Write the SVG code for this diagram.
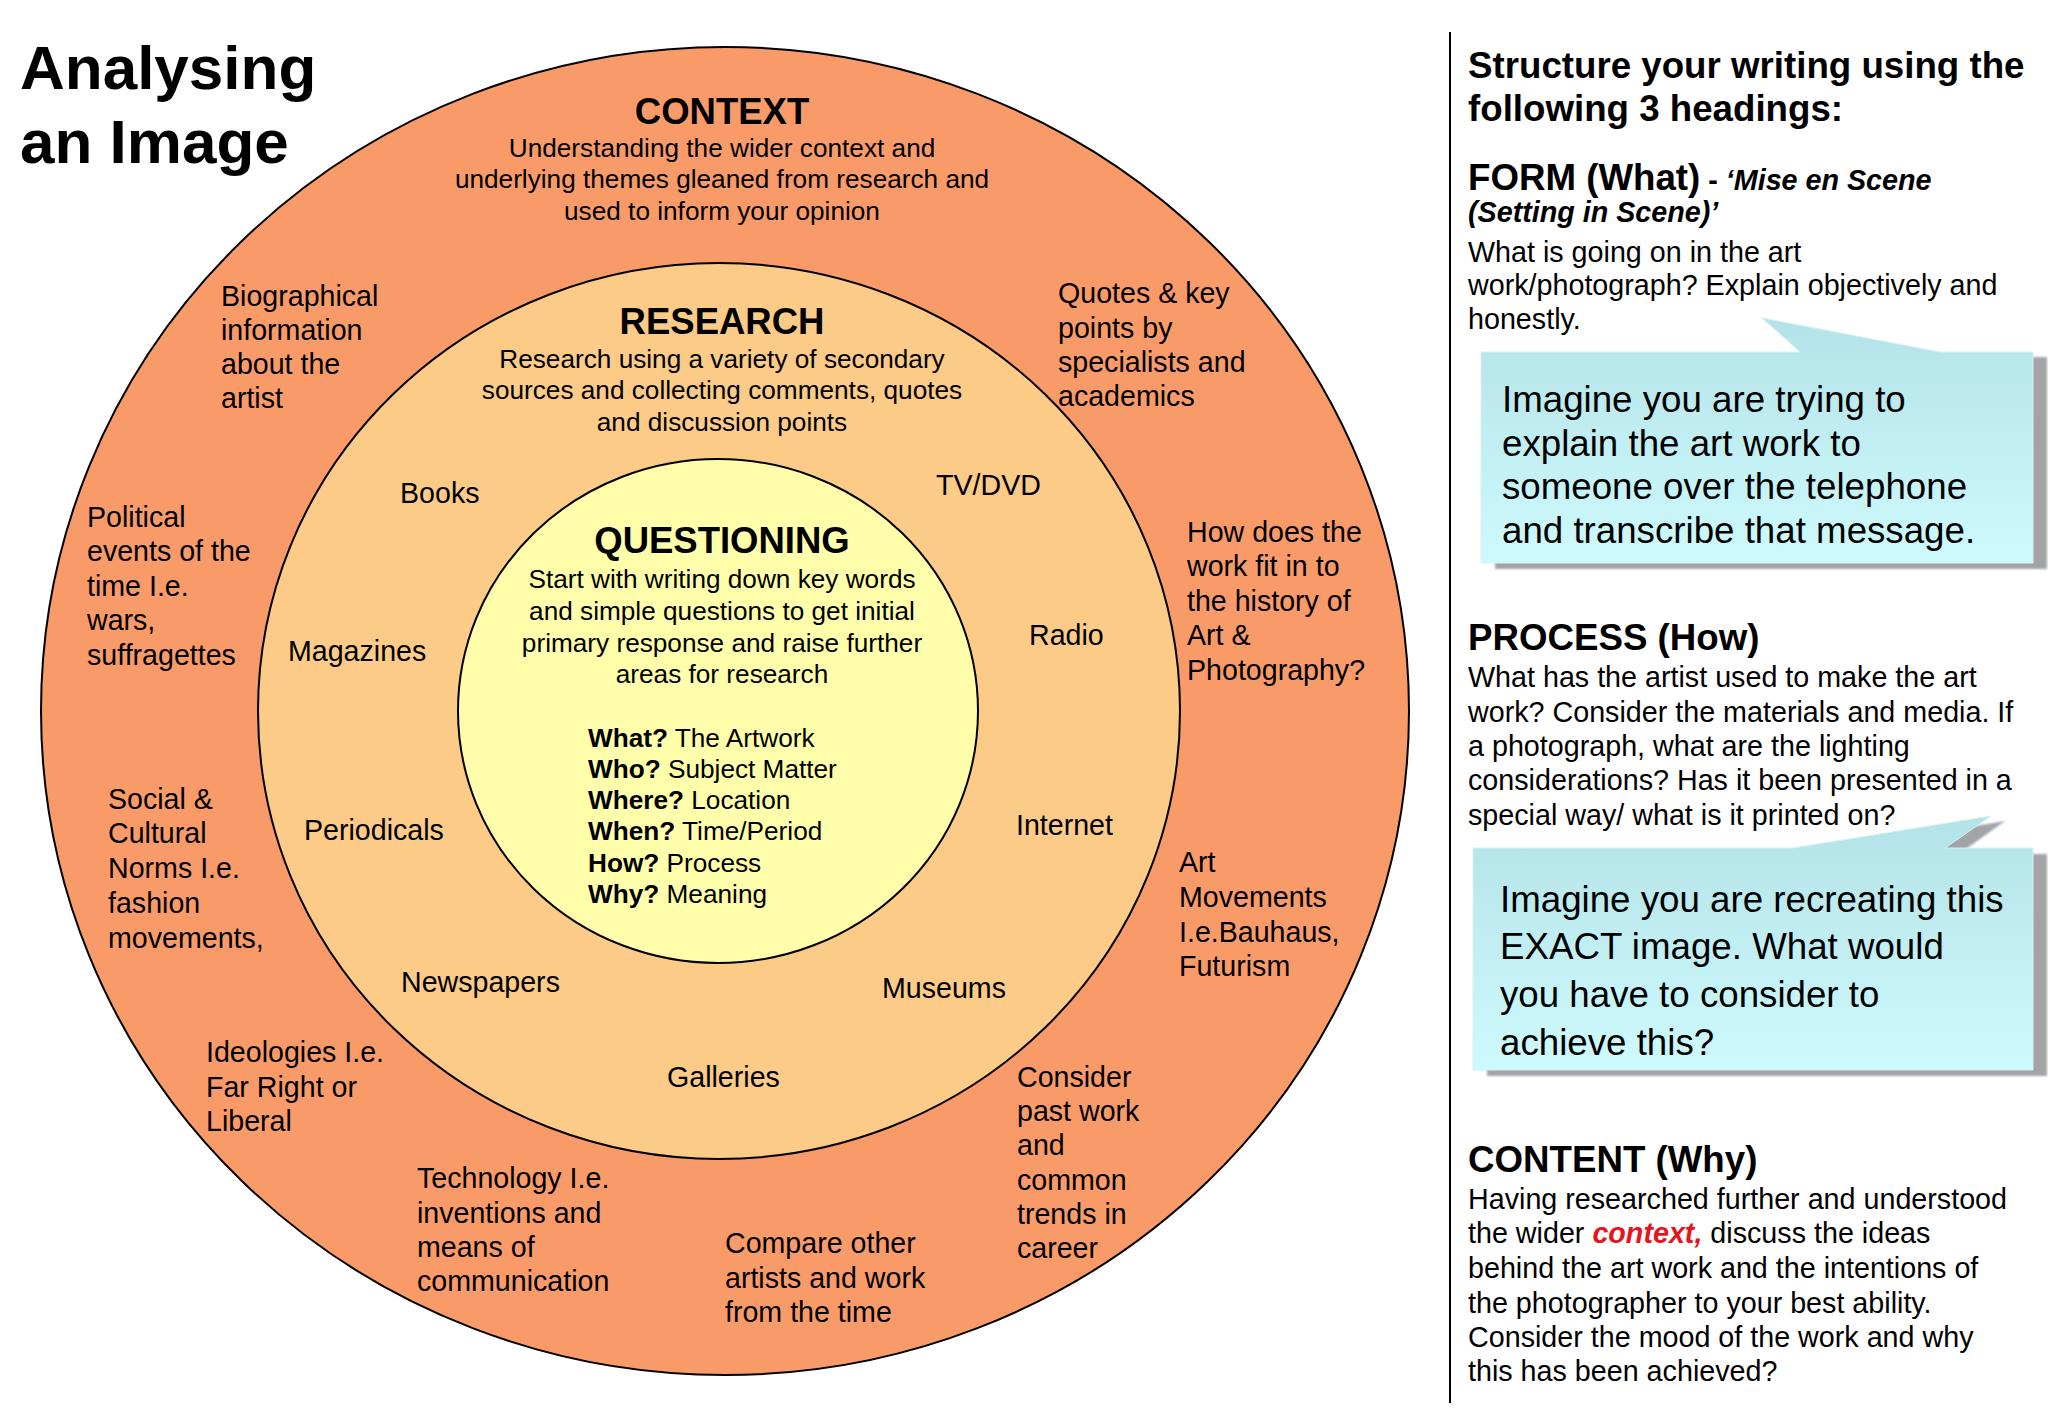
<svg xmlns="http://www.w3.org/2000/svg" width="2048" height="1418" viewBox="0 0 2048 1418">
<defs>
<linearGradient id="callFill" x1="0" y1="0" x2="0" y2="1">
<stop offset="0" stop-color="#B3E2E8"/>
<stop offset="1" stop-color="#CEFAFD"/>
</linearGradient>
<filter id="soft" x="-5%" y="-5%" width="110%" height="110%">
<feGaussianBlur stdDeviation="1.2"/>
</filter>
<style>
text{font-family:"Liberation Sans",Arial,sans-serif;fill:#000;}
.title{font-size:62px;font-weight:bold;}
.head{font-size:36.5px;font-weight:bold;text-anchor:middle;}
.body{font-size:26.2px;text-anchor:middle;}
.lbl{font-size:28.6px;}
.rh{font-size:36.7px;font-weight:bold;}
.rb{font-size:28.7px;}
.co{font-size:36.7px;}
.b{font-weight:bold;}
.bi{font-weight:bold;font-style:italic;}
.ring{stroke:#000;stroke-width:2;}
.shadow{fill:#A3A4A8;filter:url(#soft);}
.call{fill:url(#callFill);stroke:#D2F2F4;stroke-width:1;}
</style>
</defs>
<rect width="2048" height="1418" fill="#FFFFFF"/>

<g id="title">
<text class="title" x="20" y="89">Analysing</text>
<text class="title" x="20" y="163">an Image</text>
</g>

<g id="context-ring">
<ellipse class="ring" cx="725" cy="711" rx="684" ry="664" fill="#F99B68"/>
<text class="head" x="722" y="124">CONTEXT</text>
<text class="body" x="722" y="157">Understanding the wider context and</text>
<text class="body" x="722" y="188">underlying themes gleaned from research and</text>
<text class="body" x="722" y="220">used to inform your opinion</text>
</g>

<g id="research-ring">
<ellipse class="ring" cx="719" cy="711" rx="461" ry="448" fill="#FCCB87"/>
<text class="head" x="722" y="334">RESEARCH</text>
<text class="body" x="722" y="368">Research using a variety of secondary</text>
<text class="body" x="722" y="399">sources and collecting comments, quotes</text>
<text class="body" x="722" y="431">and discussion points</text>
</g>

<g id="questioning-ring">
<ellipse class="ring" cx="718" cy="711" rx="260" ry="252" fill="#FFFEAA"/>
<text class="head" x="722" y="553">QUESTIONING</text>
<text class="body" x="722" y="588">Start with writing down key words</text>
<text class="body" x="722" y="620">and simple questions to get initial</text>
<text class="body" x="722" y="652">primary response and raise further</text>
<text class="body" x="722" y="683">areas for research</text>
<text class="body" x="588" y="747" text-anchor="start" style="text-anchor:start"><tspan class="b">What?</tspan> The Artwork</text>
<text class="body" x="588" y="778" style="text-anchor:start"><tspan class="b">Who?</tspan> Subject Matter</text>
<text class="body" x="588" y="809" style="text-anchor:start"><tspan class="b">Where?</tspan> Location</text>
<text class="body" x="588" y="840" style="text-anchor:start"><tspan class="b">When?</tspan> Time/Period</text>
<text class="body" x="588" y="872" style="text-anchor:start"><tspan class="b">How?</tspan> Process</text>
<text class="body" x="588" y="903" style="text-anchor:start"><tspan class="b">Why?</tspan> Meaning</text>
</g>

<g id="context-labels">
<g id="biographical">
<text class="lbl" x="221" y="306">Biographical</text>
<text class="lbl" x="221" y="340">information</text>
<text class="lbl" x="221" y="374">about the</text>
<text class="lbl" x="221" y="408">artist</text>
</g>
<g id="political">
<text class="lbl" x="87" y="527">Political</text>
<text class="lbl" x="87" y="561">events of the</text>
<text class="lbl" x="87" y="596">time I.e.</text>
<text class="lbl" x="87" y="630">wars,</text>
<text class="lbl" x="87" y="665">suffragettes</text>
</g>
<g id="social">
<text class="lbl" x="108" y="809">Social &amp;</text>
<text class="lbl" x="108" y="843">Cultural</text>
<text class="lbl" x="108" y="878">Norms I.e.</text>
<text class="lbl" x="108" y="913">fashion</text>
<text class="lbl" x="108" y="948">movements,</text>
</g>
<g id="ideologies">
<text class="lbl" x="206" y="1062">Ideologies I.e.</text>
<text class="lbl" x="206" y="1097">Far Right or</text>
<text class="lbl" x="206" y="1131">Liberal</text>
</g>
<g id="technology">
<text class="lbl" x="417" y="1188">Technology I.e.</text>
<text class="lbl" x="417" y="1223">inventions and</text>
<text class="lbl" x="417" y="1257">means of</text>
<text class="lbl" x="417" y="1291">communication</text>
</g>
<g id="compare">
<text class="lbl" x="725" y="1253">Compare other</text>
<text class="lbl" x="725" y="1288">artists and work</text>
<text class="lbl" x="725" y="1322">from the time</text>
</g>
<g id="consider">
<text class="lbl" x="1017" y="1087">Consider</text>
<text class="lbl" x="1017" y="1121">past work</text>
<text class="lbl" x="1017" y="1155">and</text>
<text class="lbl" x="1017" y="1190">common</text>
<text class="lbl" x="1017" y="1224">trends in</text>
<text class="lbl" x="1017" y="1258">career</text>
</g>
<g id="art-movements">
<text class="lbl" x="1179" y="872">Art</text>
<text class="lbl" x="1179" y="907">Movements</text>
<text class="lbl" x="1179" y="942">I.e.Bauhaus,</text>
<text class="lbl" x="1179" y="976">Futurism</text>
</g>
<g id="history">
<text class="lbl" x="1187" y="542">How does the</text>
<text class="lbl" x="1187" y="576">work fit in to</text>
<text class="lbl" x="1187" y="611">the history of</text>
<text class="lbl" x="1187" y="645">Art &amp;</text>
<text class="lbl" x="1187" y="680">Photography?</text>
</g>
<g id="quotes">
<text class="lbl" x="1058" y="303">Quotes &amp; key</text>
<text class="lbl" x="1058" y="338">points by</text>
<text class="lbl" x="1058" y="372">specialists and</text>
<text class="lbl" x="1058" y="406">academics</text>
</g>
</g>

<g id="research-labels">
<text id="books" class="lbl" x="400" y="503">Books</text>
<text id="tvdvd" class="lbl" x="936" y="495">TV/DVD</text>
<text id="magazines" class="lbl" x="288" y="661">Magazines</text>
<text id="radio" class="lbl" x="1029" y="645">Radio</text>
<text id="periodicals" class="lbl" x="304" y="840">Periodicals</text>
<text id="internet" class="lbl" x="1016" y="835">Internet</text>
<text id="newspapers" class="lbl" x="401" y="992">Newspapers</text>
<text id="museums" class="lbl" x="882" y="998">Museums</text>
<text id="galleries" class="lbl" x="667" y="1087">Galleries</text>
</g>

<line id="divider" x1="1450" y1="32" x2="1450" y2="1403" stroke="#000" stroke-width="2"/>

<g id="structure-heading">
<text class="rh" x="1468" y="78">Structure your writing using the</text>
<text class="rh" x="1468" y="121">following 3 headings:</text>
</g>

<g id="form">
<text class="rh" x="1468" y="190">FORM (What)<tspan class="b" style="font-size:28.7px"> - </tspan><tspan class="bi" style="font-size:28.7px">‘Mise en Scene</tspan></text>
<text class="rb bi" x="1468" y="222">(Setting in Scene)’</text>
<text class="rb" x="1468" y="262">What is going on in the art</text>
<text class="rb" x="1468" y="295">work/photograph? Explain objectively and</text>
<text class="rb" x="1468" y="329">honestly.</text>
</g>

<g id="callout-form">
<path class="shadow" d="M1495,357 L1814,357 L1776,323 L1954,357 L2047,357 L2047,569 L1495,569 Z"/>
<path class="call" d="M1481,352 L1800,352 L1762,318 L1940,352 L2033,352 L2033,563 L1481,563 Z"/>
<text class="co" x="1502" y="412">Imagine you are trying to</text>
<text class="co" x="1502" y="456">explain the art work to</text>
<text class="co" x="1502" y="499">someone over the telephone</text>
<text class="co" x="1502" y="543">and transcribe that message.</text>
</g>

<g id="process">
<text class="rh" x="1468" y="650">PROCESS (How)</text>
<text class="rb" x="1468" y="687">What has the artist used to make the art</text>
<text class="rb" x="1468" y="722">work? Consider the materials and media. If</text>
<text class="rb" x="1468" y="756">a photograph, what are the lighting</text>
<text class="rb" x="1468" y="790">considerations? Has it been presented in a</text>
<text class="rb" x="1468" y="825">special way/ what is it printed on?</text>
</g>

<g id="callout-process">
<path class="shadow" d="M1487,854 L1807,854 L2005,821 L1959,854 L2047,854 L2047,1076 L1487,1076 Z"/>
<path class="call" d="M1473,848 L1793,848 L1991,816 L1945,848 L2033,848 L2033,1070 L1473,1070 Z"/>
<text class="co" x="1500" y="912">Imagine you are recreating this</text>
<text class="co" x="1500" y="959">EXACT image. What would</text>
<text class="co" x="1500" y="1007">you have to consider to</text>
<text class="co" x="1500" y="1055">achieve this?</text>
</g>

<g id="content">
<text class="rh" x="1468" y="1172">CONTENT (Why)</text>
<text class="rb" x="1468" y="1209">Having researched further and understood</text>
<text class="rb" x="1468" y="1243">the wider <tspan class="bi" fill="#E8141C" style="fill:#E8141C">context,</tspan> discuss the ideas</text>
<text class="rb" x="1468" y="1278">behind the art work and the intentions of</text>
<text class="rb" x="1468" y="1313">the photographer to your best ability.</text>
<text class="rb" x="1468" y="1347">Consider the mood of the work and why</text>
<text class="rb" x="1468" y="1381">this has been achieved?</text>
</g>
</svg>
